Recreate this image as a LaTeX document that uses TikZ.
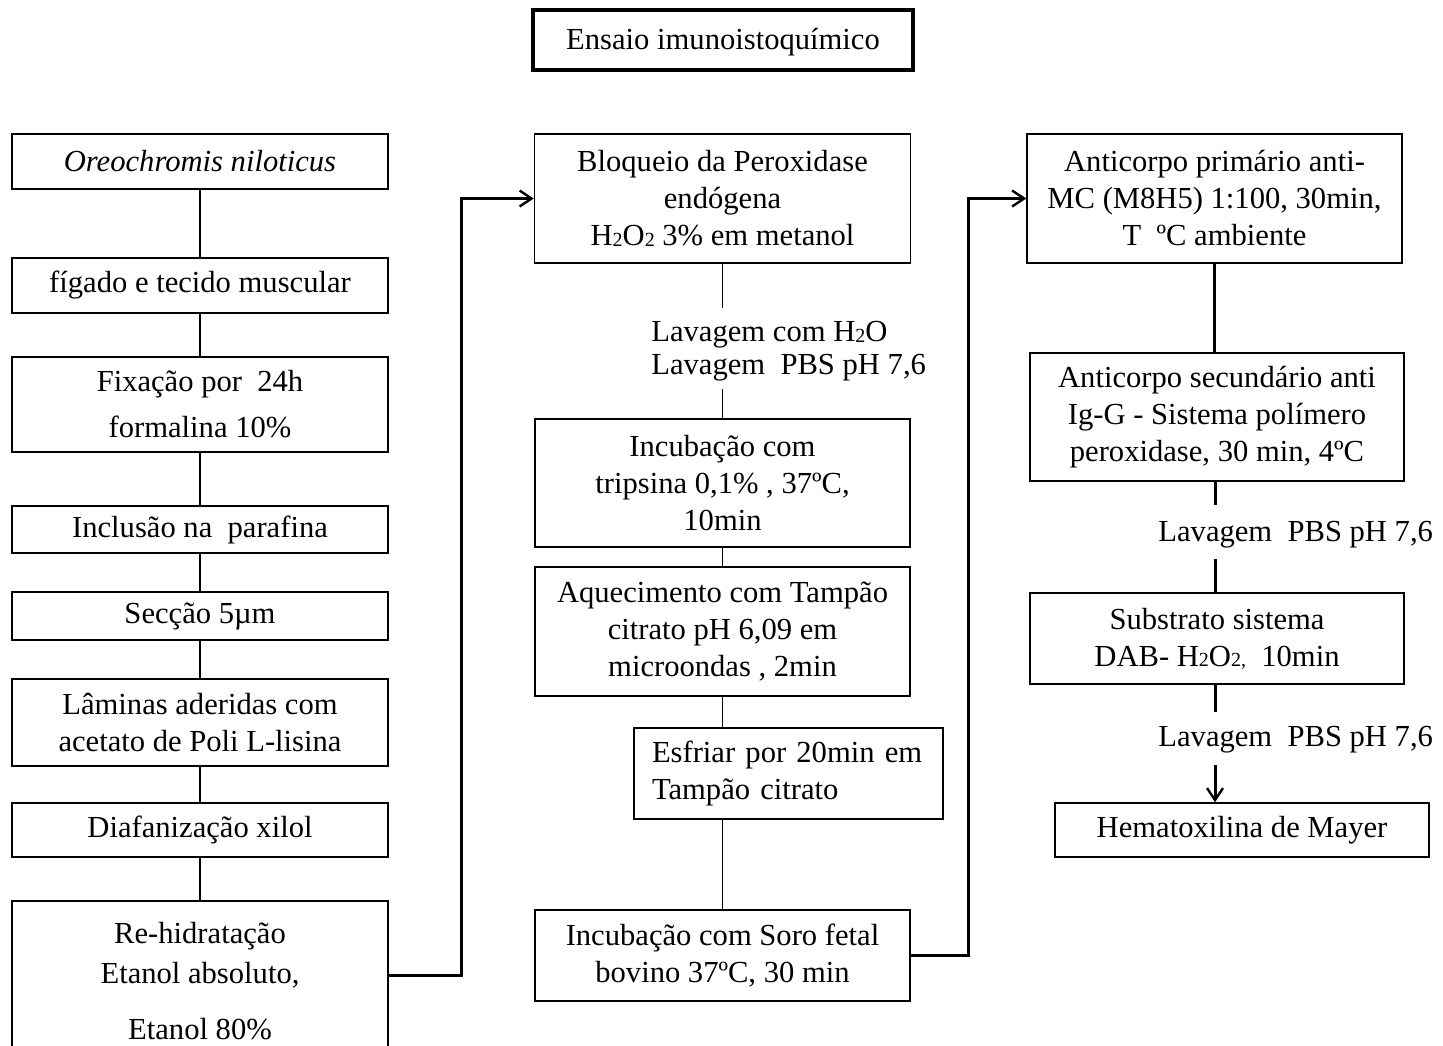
\documentclass[tikz,border=0pt]{standalone}
\usepackage{fontspec}
\setmainfont{Liberation Serif}
\usetikzlibrary{arrows.meta}
\newcommand{\subtwo}{\raisebox{-0.4pt}{\fontsize{10pt}{10pt}\selectfont 2}}
\tikzset{
  txt/.style={font=\fontsize{15.3pt}{18.5pt}\selectfont},
  box/.style={draw, line width=0.75pt, rectangle, align=center, inner sep=0pt, txt},
  lbl/.style={align=left, anchor=west, inner sep=0pt, txt},
  thinline/.style={line width=0.75pt},
  thickline/.style={line width=1.5pt},
  arr/.style={thickline, -{Straight Barb[length=6pt,width=8pt,line width=1.2pt]}},
}
\begin{document}
\begin{tikzpicture}[x=0.5pt,y=-0.5pt]
\clip (0,0) rectangle (1443,1045);
\fill[white] (0,0) rectangle (1443,1045);

% title
\node[box, line width=2pt, minimum width=190pt, minimum height=30pt, text height=12pt, text depth=3pt] (title) at (723,40) {Ensaio imunoistoquímico};

% left column
\node[box, minimum width=188pt, minimum height=27.5pt] (oreo) at (200,161.5) {\textit{Oreochromis niloticus}};
\node[box, minimum width=188pt, minimum height=27.5pt] (fig) at (200,285.5) {fígado e tecido muscular};
\node[box, minimum width=188pt, minimum height=47.5pt] (fix) at (200,404.5) {Fixação por\ \ 24h\\[4.5pt]formalina 10\%};
\node[box, minimum width=188pt, minimum height=23.5pt] (inc) at (200,529.5) {Inclusão na\ \ parafina};
\node[box, minimum width=188pt, minimum height=24pt] (sec) at (200,616) {Secção 5µm};
\node[box, minimum width=188pt, minimum height=43.5pt] (lam) at (200,722.5) {Lâminas aderidas com\\acetato de Poli L-lisina};
\node[box, minimum width=188pt, minimum height=27pt] (dia) at (200,830) {Diafanização xilol};
\node[box, minimum width=188pt, minimum height=80pt] (reh) at (200,981) {Re-hidratação\\[1.5pt]Etanol absoluto,\\[9.5pt]Etanol 80\%};

% middle column
\node[box, minimum width=188pt, minimum height=64.5pt] (bloq) at (722.5,198.5) {Bloqueio da Peroxidase\\endógena\\H\subtwo O\subtwo{} 3\% em metanol};
\node[lbl] (lav1) at (651,351) {Lavagem com H\subtwo O\\[-2pt]Lavagem\ \ PBS pH 7,6};
\node[box, minimum width=187.5pt, minimum height=64pt] (trip) at (722.5,483) {Incubação com\\tripsina 0,1\% , 37ºC,\\10min};
\node[box, minimum width=187.5pt, minimum height=64.5pt] (aq) at (722.5,631.5) {Aquecimento com Tampão\\citrato pH 6,09 em\\microondas , 2min};
\node[box, align=left, text width=136.5pt, inner xsep=9pt, minimum height=45.5pt] (esf) at (788.5,773.5) {Esfriar por 20min em\\Tampão citrato};
\node[box, minimum width=187.5pt, minimum height=45.5pt] (soro) at (722.5,955.5) {Incubação com Soro fetal\\bovino 37ºC, 30 min};

% right column
\node[box, minimum width=187.5pt, minimum height=64.5pt] (anti1) at (1214.5,198.5) {Anticorpo primário anti-\\MC (M8H5) 1:100, 30min,\\T\ \ ºC ambiente};
\node[box, minimum width=187pt, minimum height=64pt] (anti2) at (1217,417) {Anticorpo secundário anti\\Ig-G - Sistema polímero\\peroxidase, 30 min, 4ºC};
\node[lbl] (lav2) at (1158,535) {Lavagem\ \ PBS pH 7,6};
\node[box, minimum width=187pt, minimum height=45.5pt] (sub) at (1217,638.5) {Substrato sistema\\DAB- H\subtwo O\subtwo{\fontsize{10pt}{10pt}\selectfont ,}\ \ 10min};
\node[lbl] (lav3) at (1158,740) {Lavagem\ \ PBS pH 7,6};
\node[box, minimum width=187pt, minimum height=27pt] (hema) at (1242,830) {Hematoxilina de Mayer};

% left connectors
\draw[thinline] (oreo) -- (fig);
\draw[thinline] (fig) -- (fix);
\draw[thinline] (fix) -- (inc);
\draw[thinline] (inc) -- (sec);
\draw[thinline] (sec) -- (lam);
\draw[thinline] (lam) -- (dia);
\draw[thinline] (dia) -- (reh);

% middle connectors
\coordinate (l1a) at (722.5,308);
\coordinate (l1b) at (722.5,389);
\draw[thinline] (bloq) -- (l1a);
\draw[thinline] (l1b) -- (trip);
\draw[thinline] (trip) -- (aq);
\draw[thinline] (aq.south) -- (aq.south |- esf.north);
\draw[thinline] (esf.south -| aq.south) -- (soro.north);

% long arrows
\coordinate (j1) at (461,975);
\draw[arr] (reh.east |- j1) -- (j1) |- (bloq.west);
\coordinate (j2) at (968,0);
\draw[arr] (soro.east) -- (soro.east -| j2) |- (anti1.west);

% right connectors
\coordinate (r1a) at (1215,505);
\coordinate (r1b) at (1215,559);
\coordinate (r2a) at (1215,712);
\coordinate (r2b) at (1215,765);
\draw[thickline] (anti1.south) -- (anti1.south |- anti2.north);
\draw[thickline] (anti2.south -| r1a) -- (r1a);
\draw[thickline] (r1b) -- (r1b |- sub.north);
\draw[thickline] (sub.south -| r2a) -- (r2a);
\draw[arr] (r2b) -- (r2b |- hema.north);
\end{tikzpicture}
\end{document}
